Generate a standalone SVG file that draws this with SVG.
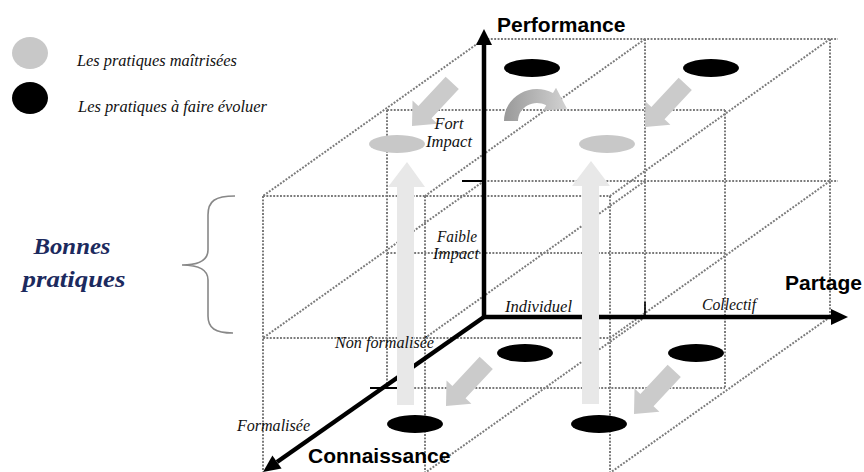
<svg xmlns="http://www.w3.org/2000/svg" width="864" height="472" viewBox="0 0 864 472">
<defs>
<style>
.d{stroke:#7a7a7a;stroke-width:2;stroke-dasharray:1.9 1.5;fill:none}
.ax{stroke:#000;stroke-width:4.5;fill:none}
.it{font-family:"Liberation Serif",serif;font-style:italic;font-size:16px;fill:#111}
.bd{font-family:"Liberation Sans",Arial,sans-serif;font-weight:bold;font-size:21px;fill:#000}
.bk{fill:#000}
.gr{fill:#c8c8c8}
.da{fill:#cbcbcb}
.ua{fill:#e8e8e8}
</style>
<polygon id="darr" points="0,0 -19,-17 -19,-9 -59,-9 -59,9 -19,9 -19,17"/>
<linearGradient id="cg" x1="504" y1="0" x2="567" y2="0" gradientUnits="userSpaceOnUse">
<stop offset="0" stop-color="#999"/>
<stop offset="1" stop-color="#d2d2d2"/>
</linearGradient>
</defs>
<rect width="864" height="472" fill="#fff"/>

<g id="grid">
<path class="d" d="M484,39H838M484,181H838M645,39V317M830,39V317"/>
<path class="d" d="M387,110H725M387,253H725M387,388H725M387,110V388M725,110V388"/>
<path class="d" d="M263,196H610M263,338H610M263,196V472M425,196V472M610,196V472"/>
<path class="d" d="M484,39L263,196M645,39L425,196M830,39L610,196M484,181L263,338M645,181L425,338M830,181L610,338M645,317L422,475M830,317L607,475"/>
</g>

<g id="brace">
<path d="M235,196C215,196 208,201 208,215L208,250C208,260 200,265 182,265C200,265 208,270 208,280L208,316C208,328 215,333 233,333" fill="none" stroke="#888" stroke-width="1.6"/>
</g>

<g id="axes">
<path class="ax" d="M484,317V44"/>
<polygon class="bk" points="484,29 476,45 492,45"/>
<path class="ax" d="M482,317H832"/>
<polygon class="bk" points="848,317 831,309 831,325"/>
<path class="ax" d="M484,317L277,462"/>
<polygon class="bk" points="263,472 281.6,468.5 272.4,455.5"/>
<path d="M462,181H484" stroke="#000" stroke-width="2"/>
<path d="M645,302V317" stroke="#000" stroke-width="1.6"/>
<path d="M370,388H397" stroke="#000" stroke-width="2"/>
</g>

<g id="legend">
<ellipse class="gr" cx="30" cy="53" rx="18" ry="16"/>
<ellipse class="bk" cx="30" cy="98" rx="18" ry="16"/>
<text class="it" x="77" y="66" font-size="15" textLength="160" lengthAdjust="spacingAndGlyphs">Les pratiques maîtrisées</text>
<text class="it" x="78" y="112" font-size="15" textLength="189" lengthAdjust="spacingAndGlyphs">Les pratiques à faire évoluer</text>
</g>

<g id="practices">
<ellipse class="bk" cx="532" cy="68" rx="28" ry="9"/>
<ellipse class="bk" cx="711" cy="68" rx="28" ry="9"/>
<ellipse class="gr" cx="397" cy="144" rx="28" ry="9"/>
<ellipse class="gr" cx="607" cy="144" rx="28" ry="9"/>
<ellipse class="bk" cx="525" cy="353" rx="28" ry="9"/>
<ellipse class="bk" cx="696" cy="353" rx="28" ry="9"/>
<ellipse class="bk" cx="415" cy="424" rx="28" ry="9"/>
<ellipse class="bk" cx="599" cy="424" rx="28" ry="9"/>
</g>

<g id="connectors">
<use href="#darr" class="da" transform="translate(412,126) rotate(133)"/>
<use href="#darr" class="da" transform="translate(645,127) rotate(133)"/>
<use href="#darr" class="da" transform="translate(446,406) rotate(133)"/>
<use href="#darr" class="da" transform="translate(634,414) rotate(133)"/>
<polygon class="ua" points="407,162 425,187 414,187 414,405 397,405 397,187 388,187"/>
<polygon class="ua" points="591,161 610,186 599,186 599,404 582,404 582,186 572,186"/>
<path d="M504,121A33,32 0 0 1 553,93L556,87.7L567,108.8L543.3,110.5L546.2,105.3A19,18 0 0 0 518,121Z" fill="url(#cg)"/>
</g>

<g id="labels">
<text class="bd" x="497" y="32">Performance</text>
<text class="bd" x="785" y="290">Partage</text>
<text class="bd" x="308" y="463">Connaissance</text>
<text class="it" x="449" y="129" text-anchor="middle" textLength="29" lengthAdjust="spacingAndGlyphs">Fort</text>
<text class="it" x="449" y="147" text-anchor="middle" textLength="46" lengthAdjust="spacingAndGlyphs">Impact</text>
<text class="it" x="457" y="242" text-anchor="middle" textLength="40" lengthAdjust="spacingAndGlyphs">Faible</text>
<text class="it" x="456" y="259" text-anchor="middle" textLength="46" lengthAdjust="spacingAndGlyphs">Impact</text>
<text class="it" x="505" y="312" textLength="67" lengthAdjust="spacingAndGlyphs">Individuel</text>
<text class="it" x="702" y="310" textLength="54" lengthAdjust="spacingAndGlyphs">Collectif</text>
<text class="it" x="335" y="348" textLength="99" lengthAdjust="spacingAndGlyphs">Non formalisée</text>
<text class="it" x="237" y="431" textLength="73" lengthAdjust="spacingAndGlyphs">Formalisée</text>
<text x="72" y="254" text-anchor="middle" font-family="'Liberation Serif',serif" font-style="italic" font-weight="bold" font-size="24" fill="#1c2a5e" textLength="77" lengthAdjust="spacingAndGlyphs">Bonnes</text>
<text x="74" y="287" text-anchor="middle" font-family="'Liberation Serif',serif" font-style="italic" font-weight="bold" font-size="24" fill="#1c2a5e" textLength="103" lengthAdjust="spacingAndGlyphs">pratiques</text>
</g>
</svg>
